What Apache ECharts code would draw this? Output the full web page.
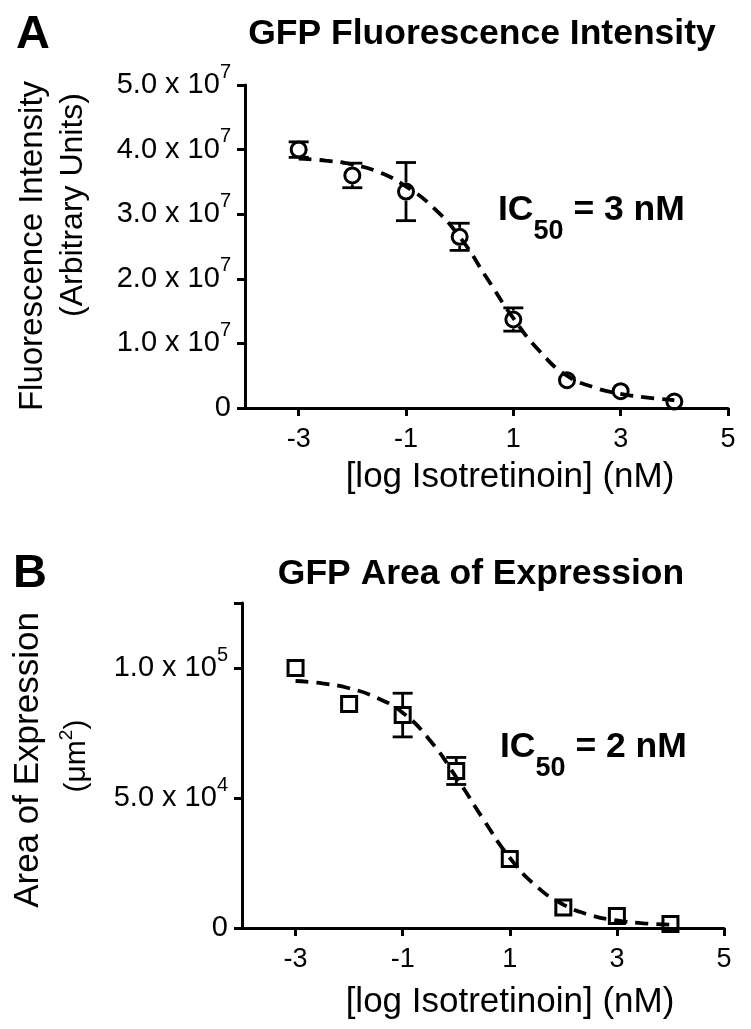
<!DOCTYPE html>
<html><head><meta charset="utf-8">
<script src="https://cdn.jsdelivr.net/npm/echarts@6/dist/echarts.min.js"></script>
<style>html,body{margin:0;padding:0;background:#fff}#c{width:751px;height:1029px}</style>
</head><body><div id="c"></div>
<script>
// ---- data ----
const logConc   = [-3, -2, -1, 0, 1, 2, 3, 4];
const fluorMean = [4.0e7, 3.6e7, 3.35e7, 2.65e7, 1.37e7, 0.43e7, 0.26e7, 0.10e7];
const fluorErr  = [0.12e7, 0.19e7, 0.45e7, 0.21e7, 0.18e7, 0, 0, 0];
const areaMean  = [100000, 86200, 81900, 60400, 26500, 7900, 4600, 1500];
const areaErr   = [0, 0, 8400, 5200, 0, 0, 0, 0];
const fitX      = [-3, -2.5, -2, -1.5, -1, -0.5, 0, 0.5, 1, 1.5, 2, 2.5, 3, 3.5, 4];
const fluorFit  = [3.86e7, 3.83e7, 3.77e7, 3.65e7, 3.43e7, 3.11e7, 2.65e7, 2.02e7, 1.39e7, 0.87e7, 0.50e7, 0.32e7, 0.22e7, 0.16e7, 0.12e7];
const areaFit   = [95000, 94100, 92200, 88700, 82800, 72400, 58000, 42000, 27000, 16000, 9000, 5000, 2900, 1800, 1300];
const xTicks    = [-3, -1, 1, 3, 5];
const yTicksA   = [0, 1e7, 2e7, 3e7, 4e7, 5e7];
const yTextA    = ['0', '1.0 x 10^7', '2.0 x 10^7', '3.0 x 10^7', '4.0 x 10^7', '5.0 x 10^7'];
const yTicksB   = [0, 50000, 100000];
const yTextB    = ['0', '5.0 x 10^4', '1.0 x 10^5'];
const yTickMarksB = [0, 50000, 100000, 125000];

const FONT = '"Liberation Sans", Arial, Helvetica, sans-serif';
const BLACK = '#000';

function yFmt(ticks, texts) {
  return function (v) {
    const i = ticks.findIndex(t => Math.abs(t - v) < 1e-6 * Math.max(1, Math.abs(t)));
    if (i < 0) return '';
    const t = texts[i];
    if (t.indexOf('^') < 0) return '{b|' + t + '}';
    const p = t.split('^');
    return '{b|' + p[0] + '}{s|' + p[1] + '}';
  };
}
const yRich = {
  b: { fontSize: 29, fontFamily: FONT, color: BLACK, lineHeight: 46 },
  s: { fontSize: 20, fontFamily: FONT, color: BLACK, lineHeight: 21, verticalAlign: 'top' }
};
const axisLine = { show: true, onZero: false, lineStyle: { color: BLACK, width: 3 } };
const tickStyle = { color: BLACK, width: 3 };

function xAxisDef(gi, gap, padLeft) {
  return {
    type: 'value', gridIndex: gi, min: -4, max: 5,
    axisLine: axisLine,
    axisTick: { show: true, length: 8, lineStyle: tickStyle, customValues: xTicks },
    axisLabel: { customValues: xTicks, color: BLACK, fontSize: 27, fontFamily: FONT, margin: 18, showMaxLabel: true, showMinLabel: true },
    splitLine: { show: false },
    name: '[log Isotretinoin] (nM)', nameLocation: 'middle', nameGap: gap,
    nameTextStyle: { fontSize: 35, color: BLACK, fontFamily: FONT, padding: [0, 0, 0, padLeft] }
  };
}

function errSeries(xi, yi, means, errs) {
  return {
    type: 'custom', xAxisIndex: xi, yAxisIndex: yi, z: 4, silent: true,
    data: logConc.map((x, i) => [x, means[i], errs[i]]),
    encode: { x: 0, y: 1 },
    renderItem: function (params, api) {
      const x = api.value(0), m = api.value(1), e = api.value(2);
      const children = [];
      if (e > 0) {
        const pc = api.coord([x, m]);
        const pt = api.coord([x, m + e]);
        const pb = api.coord([x, m - e]);
        const r = 9, cw = 10;
        const st = { stroke: BLACK, lineWidth: 2.8, fill: null };
        if (pc[1] - pt[1] > r) children.push({ type: 'line', shape: { x1: pc[0], y1: pt[1], x2: pc[0], y2: pc[1] - r }, style: st });
        if (pb[1] - pc[1] > r) children.push({ type: 'line', shape: { x1: pc[0], y1: pc[1] + r, x2: pc[0], y2: pb[1] }, style: st });
        children.push({ type: 'line', shape: { x1: pc[0] - cw, y1: pt[1], x2: pc[0] + cw, y2: pt[1] }, style: st });
        children.push({ type: 'line', shape: { x1: pc[0] - cw, y1: pb[1], x2: pc[0] + cw, y2: pb[1] }, style: st });
      }
      return { type: 'group', children: children };
    }
  };
}

function fitSeries(xi, yi, vals) {
  return {
    type: 'line', xAxisIndex: xi, yAxisIndex: yi, z: 2, silent: true,
    data: fitX.map((x, i) => [x, vals[i]]),
    smooth: true, showSymbol: false, symbol: 'none',
    lineStyle: { color: BLACK, width: 3.8, type: [13, 8] }
  };
}

function pointSeries(xi, yi, means, sym) {
  return {
    type: 'scatter', xAxisIndex: xi, yAxisIndex: yi, z: 3, silent: true, clip: false,
    data: logConc.map((x, i) => [x, means[i]]),
    symbol: sym, symbolSize: 15,
    itemStyle: { color: 'rgba(255,255,255,0)', borderColor: BLACK, borderWidth: 3, opacity: 1 }
  };
}

function txt(x, y, text, font, extra) {
  return Object.assign({ type: 'text', x: x, y: y, silent: true,
    style: { text: text, font: font, fill: BLACK, align: 'center', verticalAlign: 'middle' } }, extra || {});
}
function icText(x, y, num) {
  return { type: 'text', x: x, y: y, silent: true,
    style: {
      text: '{b|IC}{s|50}{b| = ' + num + ' nM}', align: 'left', verticalAlign: 'middle', fill: BLACK,
      rich: {
        b: { fontSize: 35.5, fontWeight: 'bold', fontFamily: FONT, fill: BLACK, color: BLACK, lineHeight: 70 },
        s: { fontSize: 27, fontWeight: 'bold', fontFamily: FONT, fill: BLACK, color: BLACK, lineHeight: 30, verticalAlign: 'bottom' }
      }
    } };
}

const chart = echarts.init(document.getElementById('c'), null, { renderer: 'canvas' });
chart.setOption({
  backgroundColor: '#fff',
  animation: false,
  grid: [
    { left: 245, top: 85, width: 483, height: 323, outerBoundsMode: 'none', containLabel: false },
    { left: 242, top: 603, width: 482, height: 325, outerBoundsMode: 'none', containLabel: false }
  ],
  xAxis: [xAxisDef(0, 52, 47), xAxisDef(1, 57, 54)],
  yAxis: [
    { type: 'value', gridIndex: 0, min: 0, max: 5e7, interval: 1e7,
      axisLine: axisLine,
      axisTick: { show: true, length: 8, lineStyle: tickStyle, customValues: yTicksA },
      axisLabel: { customValues: yTicksA, margin: 14, formatter: yFmt(yTicksA, yTextA), rich: yRich, showMaxLabel: true },
      splitLine: { show: false } },
    { type: 'value', gridIndex: 1, min: 0, max: 125000,
      axisLine: axisLine,
      axisTick: { show: true, length: 8, lineStyle: tickStyle, customValues: yTickMarksB },
      axisLabel: { customValues: yTicksB, margin: 14, formatter: yFmt(yTicksB, yTextB), rich: yRich },
      splitLine: { show: false } }
  ],
  series: [
    fitSeries(0, 0, fluorFit), pointSeries(0, 0, fluorMean, 'circle'), errSeries(0, 0, fluorMean, fluorErr),
    fitSeries(1, 1, areaFit), pointSeries(1, 1, areaMean, 'rect'), errSeries(1, 1, areaMean, areaErr)
  ],
  graphic: [
    txt(33, 35, 'A', 'bold 47px ' + FONT),
    txt(482, 34, 'GFP Fluorescence Intensity', 'bold 35.5px ' + FONT),
    icText(498, 210, '3'),
    txt(33, 246, 'Fluorescence Intensity', '33px ' + FONT, { rotation: Math.PI / 2 }),
    txt(73, 205, '(Arbitrary Units)', '32px ' + FONT, { rotation: Math.PI / 2 }),
    txt(30, 574, 'B', 'bold 47px ' + FONT),
    txt(481, 574, 'GFP Area of Expression', 'bold 35.5px ' + FONT),
    icText(500, 747, '2'),
    txt(28, 760, 'Area of Expression', '35px ' + FONT, { rotation: Math.PI / 2 }),
    { type: 'text', x: 77, y: 756, rotation: Math.PI / 2, silent: true,
      style: { text: '{a|(μm}{s|2}{a|)}', align: 'center', verticalAlign: 'middle', fill: BLACK,
        rich: { a: { fontSize: 30, fontFamily: FONT, fill: BLACK, color: BLACK, lineHeight: 40 },
                s: { fontSize: 19, fontFamily: FONT, fill: BLACK, color: BLACK, lineHeight: 20, verticalAlign: 'top' } } } }
  ]
});
</script></body></html>
